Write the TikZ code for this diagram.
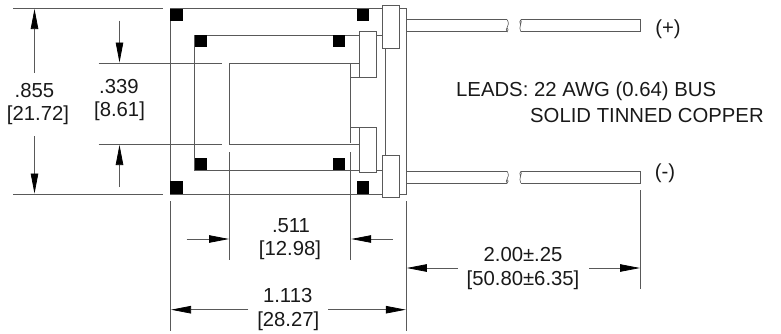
\documentclass[tikz,border=0pt]{standalone}
\usepackage{fontspec}
\setmainfont{Liberation Sans}
\usetikzlibrary{arrows.meta}
\tikzset{
  ln/.style={draw=black!65,line width=0.8pt},
  dim/.style={draw=black!65,line width=0.75pt},
  adim/.style={dim,-{Triangle[length=20pt,width=7.5pt,black]}},
  pad/.style={fill=black,draw=none},
  tab/.style={ln,fill=white},
  lbl/.style={inner sep=0pt,font=\fontsize{20.3}{22}\selectfont,text=black!90}
}
\begin{document}
\begin{tikzpicture}[x=1pt,y=-1pt]
\useasboundingbox (0,0) rectangle (781,333);
% body
\draw[ln] (170.5,8.5) rectangle (406,194);
\draw[ln] (194,35) rectangle (385,170);
\draw[ln] (350.7,144.3) -- (229.5,144.3) -- (229.5,63) -- (350.7,63);
\draw[ln] (350.7,63) -- (350.7,142.7);
\draw[ln] (350.7,63) -- (359.7,63);
\draw[ln] (350.7,144.3) -- (359.7,144.3);
\draw[ln] (350.7,127.3) -- (359.7,127.3);
\draw[ln] (350.7,77.5) -- (359.7,77.5);
% pads
\foreach \x/\y in {170/8.5,356.7/8.5,170/181,356.7/181}
  \fill[pad] (\x,\y) rectangle ++(12.7,12.9);
\foreach \x/\y in {194.5/35,332.7/35,194.5/158,332.7/158}
  \fill[pad] (\x,\y) rectangle ++(12.6,12);
% tabs
\draw[tab] (359.7,31.5) rectangle (376.3,77.5);
\draw[tab] (359.7,127.3) rectangle (376.3,172.3);
\draw[tab] (382.3,5) rectangle (399.3,48.5);
\draw[tab] (382.3,155.3) rectangle (399.3,197);
% leads
\foreach \a/\b in {19.7/31.7,171.3/183}{
  \draw[ln] (507.2,\a) -- (406,\a) -- (406,\b) -- (507.2,\b);
  \draw[dim,line width=0.6pt] (507.2,\a) .. controls (509,{\a+3}) and (508.5,{\a+6}) .. (507,{\a+8})
     .. controls (506,{\a+9}) and (506,{\b-1}) .. (507.2,\b)
     .. controls (508.5,{\b-1}) and (508.5,{\a+9}) .. (507,{\a+8});
  \draw[ln] (520.8,\a) -- (640.3,\a) -- (640.3,\b) -- (520.8,\b);
  \draw[dim,line width=0.6pt] (520.8,\a) .. controls (519.5,{\a+1}) and (519.5,{\a+3}) .. (520.5,{\a+5})
     .. controls (521.5,{\a+3}) and (521.5,{\a+1}) .. (520.8,\a);
  \draw[dim,line width=0.6pt] (520.5,{\a+5}) .. controls (519.5,{\a+7}) and (519.8,{\b-2}) .. (520.8,\b);
}
% extension lines
\draw[dim] (13,8.5) -- (163,8.5);
\draw[dim] (13,194) -- (163,194);
\draw[dim] (98.5,63) -- (222,63);
\draw[dim] (98.5,144.5) -- (222,144.5);
\draw[dim] (170.5,201) -- (170.5,331);
\draw[dim] (406.3,201) -- (406.3,331);
\draw[dim] (229.5,152) -- (229.5,260);
\draw[dim] (350.7,152) -- (350.7,260);
\draw[dim] (640.5,190) -- (640.5,289);
% labels
\node[lbl] (a1) at (34.5,91) {.855};
\node[lbl] (a2) at (38,115) {[21.72]};
\node[lbl] (b1) at (119,87) {.339};
\node[lbl] (b2) at (119.5,111.7) {[8.61]};
\node[lbl] (c1) at (291,226) {.511};
\node[lbl] (c2) at (290,250) {[12.98]};
\node[lbl] (d1) at (287.7,296) {1.113};
\node[lbl] (d2) at (288.3,321.7) {[28.27]};
\node[lbl] (e1) at (523,255) {2.00±.25};
\node[lbl] (e2) at (523,280) {[50.80±6.35]};
\node[lbl,anchor=west] (f1) at (456,91) {LEADS: 22 AWG (0.64) BUS};
\node[lbl,anchor=west] (f2) at (530,116) {SOLID TINNED COPPER};
\node[lbl] (p) at (668,29) {(+)};
\node[lbl] (m) at (665,173.5) {(-)};
% dimension arrows
\draw[adim] (34.5,72.5) -- (34.5,9);
\draw[adim] (34.5,136) -- (34.5,193.5);
\draw[adim] (119.5,20.5) -- (119.5,62.5);
\draw[adim] (119.5,187) -- (119.5,145);
\draw[adim] (186.7,239) -- (229,239);
\draw[adim] (392.7,239) -- (351.2,239);
\draw[adim] (248.3,309.7) -- (171,309.7);
\draw[adim] (328.3,309.7) -- (405.8,309.7);
\draw[adim] (457.7,268) -- (406.8,268);
\draw[adim] (589,268) -- (640,268);
\end{tikzpicture}
\end{document}
